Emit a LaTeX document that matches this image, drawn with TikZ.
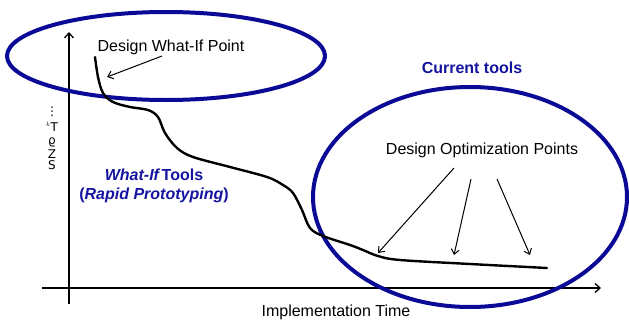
\documentclass[tikz,border=0pt]{standalone}
\usepackage{fontspec}
\setmainfont{Liberation Sans}
\newfontfamily\symfont{DejaVu Sans}
\usetikzlibrary{arrows.meta}
\definecolor{ovalblue}{RGB}{10,10,150}
\definecolor{labelblue}{RGB}{20,20,160}
\tikzset{
  txt/.style={font=\fontsize{16}{19}\selectfont, inner sep=0pt},
  bluetxt/.style={font=\fontsize{16}{19}\selectfont\bfseries, text=labelblue, inner sep=0pt},
  oval/.style={draw=ovalblue, line width=4pt},
  axis/.style={line width=1.3pt, -{Straight Barb[length=5pt,width=9pt,line width=1.3pt]}},
  pointer/.style={line width=1pt, -{Straight Barb[length=5pt,width=8pt,line width=1pt]}},
  curve/.style={line width=2.4pt, line cap=round, line join=round}
}
\begin{document}
\begin{tikzpicture}[x=1pt,y=-1pt]
\useasboundingbox (0,0) rectangle (629,324);
% axes
\coordinate (yb) at (69,304);
\coordinate (yt) at (69,32);
\coordinate (xl) at (42,288);
\coordinate (xr) at (601,288);
\draw[axis] (yb) -- (yt);
\draw[axis] (xl) -- (xr);
% y-axis garbled label
\node[inner sep=0pt, font=\symfont\fontsize{12}{11}\selectfont] (ylab) at (52,138)
  {\shortstack{⋮\\[3pt]$^{\scriptscriptstyle k}$T\\[4pt]ϱ\\[-1pt]Z\\[-1pt]S}};
% ovals
\draw[oval] (166,56) ellipse [x radius=159, y radius=44];
\draw[oval] (470,197) ellipse [x radius=157, y radius=110];
% curve
\draw[curve] plot[smooth, tension=0.55] coordinates {
 (95,57) (98,77) (103,93) (113,102) (130,107) (148,110) (158,117) (165,133)
 (177,148) (193,157) (230,167) (267,177) (283,185) (293,193) (302,210)
 (310,228) (323,236) (350,245) (363,250) (378,256) (400,260) (470,264) (547,268)};
\coordinate (wip) at (107,77);
\coordinate (op1) at (378,253);
\coordinate (op2) at (454,255);
\coordinate (op3) at (530,255);
% labels
\node[txt] (wif) at (171,47) {Design What-If Point};
\node[txt] (dop) at (482,150) {Design Optimization Points};
\node[txt] (imp) at (336,312) {Implementation Time};
\node[bluetxt] (cur) at (472,68) {Current tools};
\node[bluetxt] (wit) at (154,175) {\itshape What-If\,\upshape Tools};
\node[bluetxt] (rap) at (154,195) {(\itshape Rapid Prototyping\upshape)};
% pointers
\draw[pointer] (162,56) -- (wip);
\draw[pointer] (454,168) -- (op1);
\draw[pointer] (471,179) -- (op2);
\draw[pointer] (497,179) -- (op3);
\end{tikzpicture}
\end{document}
